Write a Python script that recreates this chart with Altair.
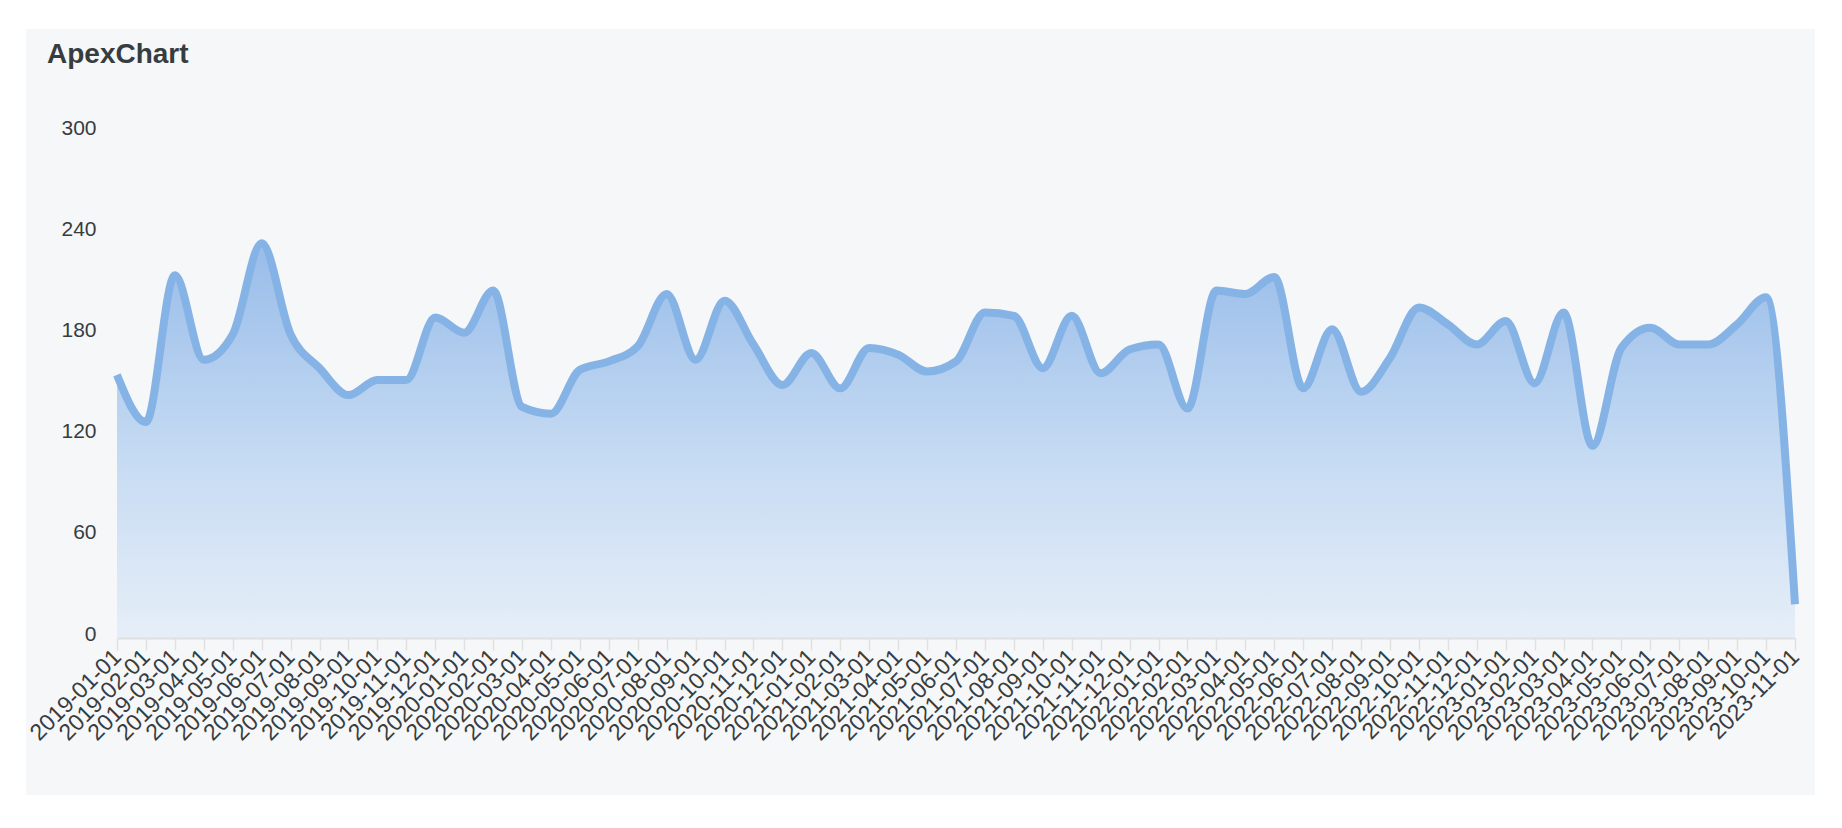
import altair as alt
import pandas as pd

TITLE = "ApexChart"

DATES = [
    "2019-01-01", "2019-02-01", "2019-03-01", "2019-04-01", "2019-05-01", "2019-06-01",
    "2019-07-01", "2019-08-01", "2019-09-01", "2019-10-01", "2019-11-01", "2019-12-01",
    "2020-01-01", "2020-02-01", "2020-03-01", "2020-04-01", "2020-05-01", "2020-06-01",
    "2020-07-01", "2020-08-01", "2020-09-01", "2020-10-01", "2020-11-01", "2020-12-01",
    "2021-01-01", "2021-02-01", "2021-03-01", "2021-04-01", "2021-05-01", "2021-06-01",
    "2021-07-01", "2021-08-01", "2021-09-01", "2021-10-01", "2021-11-01", "2021-12-01",
    "2022-01-01", "2022-02-01", "2022-03-01", "2022-04-01", "2022-05-01", "2022-06-01",
    "2022-07-01", "2022-08-01", "2022-09-01", "2022-10-01", "2022-11-01", "2022-12-01",
    "2023-01-01", "2023-02-01", "2023-03-01", "2023-04-01", "2023-05-01", "2023-06-01",
    "2023-07-01", "2023-08-01", "2023-09-01", "2023-10-01", "2023-11-01",
]

VALUES = [
    156, 128, 215, 165, 180, 234, 180, 160, 144, 153, 153, 190,
    181, 206, 137, 133, 159, 164, 173, 204, 165, 200, 174, 150,
    169, 148, 172, 168, 158, 164, 193, 191, 160, 191, 157, 171,
    174, 136, 206, 204, 214, 148, 183, 146, 166, 196, 186, 174,
    188, 151, 193, 114, 172, 184, 174, 174, 186, 202, 20,
]

Y_TICKS = [0, 60, 120, 180, 240, 300]

df = pd.DataFrame({"date": DATES, "value": VALUES})

FONT = "Liberation Sans"
TEXT_COLOR = "#373d3f"
LINE_COLOR = "#86b3e6"
PANEL_COLOR = "#f6f7f9"
W, H = 1678, 506

x_enc = alt.X(
    "date:O",
    sort=None,
    scale=alt.Scale(type="point", padding=0),
    axis=alt.Axis(
        title=None,
        labelAngle=-45,
        labelAlign="right",
        labelBaseline="middle",
        labelFontSize=23,
        labelFont=FONT,
        labelColor=TEXT_COLOR,
        labelPadding=3,
        labelOverlap=False,
        tickSize=12,
        tickColor="#e0e0e0",
        tickWidth=1.5,
        domainColor="#e0e0e0",
        domainWidth=2,
        grid=False,
        zindex=1,
    ),
)
y_enc = alt.Y(
    "value:Q",
    scale=alt.Scale(domain=[0, 300], nice=False),
    axis=alt.Axis(
        title=None,
        values=Y_TICKS,
        labelFontSize=21,
        labelFont=FONT,
        labelColor=TEXT_COLOR,
        labelPadding=21,
        labelOffset=-4,
        ticks=False,
        domain=False,
        grid=False,
        zindex=1,
    ),
)

base = alt.Chart(df)

area = base.mark_area(
    interpolate="monotone",
    color=alt.Gradient(
        gradient="linear",
        stops=[
            alt.GradientStop(color="#98bce9", offset=0),
            alt.GradientStop(color="#c6dbf3", offset=0.55),
            alt.GradientStop(color="#e6eef8", offset=1),
        ],
        x1=1, x2=1, y1=0, y2=1,
    ),
).encode(x=x_enc, y=y_enc)

line = base.mark_line(
    interpolate="monotone", color=LINE_COLOR, strokeWidth=8
).encode(x=alt.X("date:O", sort=None), y="value:Q")

panel = alt.Chart(pd.DataFrame({"k": [0]})).mark_rect(color=PANEL_COLOR).encode(
    x=alt.value(-91), x2=alt.value(W + 20), y=alt.value(-103), y2=alt.value(H + 157)
)

title = alt.Chart(pd.DataFrame({"t": [TITLE]})).mark_text(
    align="left", baseline="alphabetic", fontSize=28, fontWeight="bold",
    font=FONT, color=TEXT_COLOR,
).encode(text="t:N", x=alt.value(-70), y=alt.value(-69))

chart = alt.layer(panel, area, line, title).properties(
    width=W, height=H,
    padding={"left": 18, "top": 21, "right": 0, "bottom": 0},
    background="white",
).configure_view(stroke=None)

chart.save("out.html", embed_options={"renderer": "svg", "actions": False})
